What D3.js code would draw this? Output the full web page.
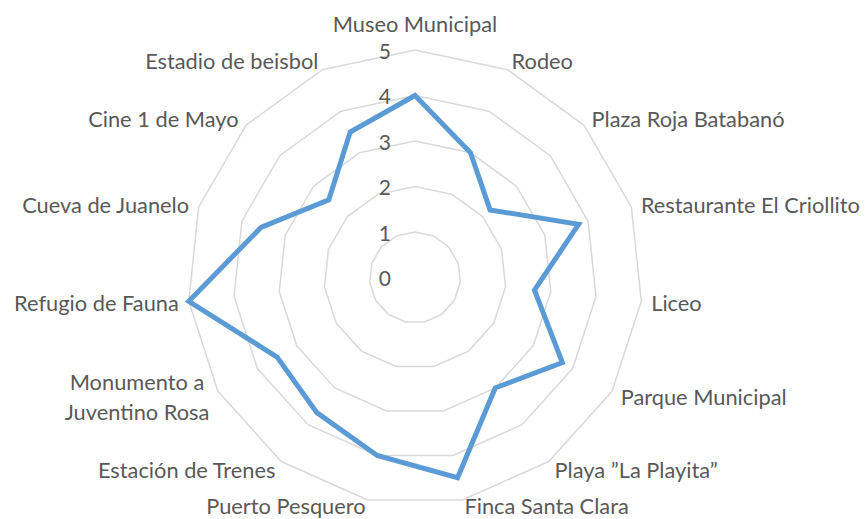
<!DOCTYPE html>
<html>
<head>
<meta charset="utf-8">
<script src="https://cdn.jsdelivr.net/npm/d3@7"></script>
<style>
	body { margin: 0; background: #fff; }
	text { font-family: Lato, 'Open Sans', sans-serif; fill: #595959; }
</style>
</head>
<body>
<div class="container"></div>
<script>
const width = 866, height = 519;

const categories = [
	'Museo Municipal', 'Rodeo', 'Plaza Roja Batabanó', 'Restaurante El Criollito',
	'Liceo', 'Parque Municipal', 'Playa ”La Playita”', 'Finca Santa Clara',
	'Puerto Pesquero', 'Estación de Trenes', 'Monumento a\nJuventino Rosa',
	'Refugio de Fauna', 'Cueva de Juanelo', 'Cine 1 de Mayo', 'Estadio de beisbol'
];
const values = [4, 3, 2.22, 3.78, 2.64, 3.74, 3, 4.5, 4, 3.67, 3.5, 5, 3.56, 2.55, 3.5];
const ticks = [0, 1, 2, 3, 4, 5];

const cx = 415, cy = 277.5;
const R = 227.5;
const fontSize = 21.8;

const r = d3.scaleLinear().domain([0, 5]).range([0, R]);
const angle = d3.scaleLinear().domain([0, categories.length]).range([0, 2 * Math.PI]);

function point(i, v) {
	const a = angle(i);
	return [cx + r(v) * Math.sin(a), cy - r(v) * Math.cos(a)];
}

const svg = d3.select('.container').append('svg')
	.attr('width', width)
	.attr('height', height)
	.attr('viewBox', [0, 0, width, height]);

// gridlines
const grid = svg.append('g')
	.attr('fill', 'none')
	.attr('stroke', '#d9d9d9')
	.attr('stroke-width', 1.5);

ticks.filter(t => t > 0).forEach(t => {
	grid.append('polygon')
		.attr('points', categories.map((c, i) => point(i, t).join(',')).join(' '));
});

// tick labels
svg.append('g')
	.selectAll('text')
	.data(ticks)
	.join('text')
	.attr('x', cx - 24)
	.attr('y', d => cy - r(d))
	.attr('text-anchor', 'end')
	.attr('dominant-baseline', 'central')
	.style('font-size', '21px')
	.text(d => d);

// series line
const line = d3.line().curve(d3.curveLinearClosed);
svg.append('path')
	.datum(values.map((v, i) => point(i, v)))
	.attr('d', line)
	.attr('fill', 'none')
	.attr('stroke', '#5b9bd5')
	.attr('stroke-width', 5)
	.attr('stroke-linejoin', 'miter');

// category labels
const lg = svg.append('g').style('font-size', fontSize + 'px');
categories.forEach((c, i) => {
	const a = angle(i);
	const s = Math.sin(a);
	const [x, y] = point(i, 5 + 10 / r(1));
	const lines = c.split('\n');
	let anchor = Math.abs(s) < 0.05 ? 'middle' : (s > 0 ? 'start' : 'end');
	let yy = Math.min(y, height - 14);
	if (anchor === 'middle') yy = y - 17;
	const t = lg.append('text')
		.attr('text-anchor', anchor)
		.attr('dominant-baseline', 'central');
	if (lines.length === 1) {
		t.attr('x', x).attr('y', yy).text(c);
	} else {
		// multi-line label: lines centred on each other, block aligned to the anchor
		const lh = 30;
		const spans = lines.map((l, k) => t.append('tspan')
			.attr('y', yy + (k - (lines.length - 1) / 2) * lh)
			.text(l));
		const w = d3.max(spans, sp => sp.node().getComputedTextLength());
		const mid = anchor === 'end' ? x - w / 2 : x + w / 2;
		t.attr('text-anchor', 'middle');
		spans.forEach(sp => sp.attr('x', mid));
	}
});
</script>
</body>
</html>
